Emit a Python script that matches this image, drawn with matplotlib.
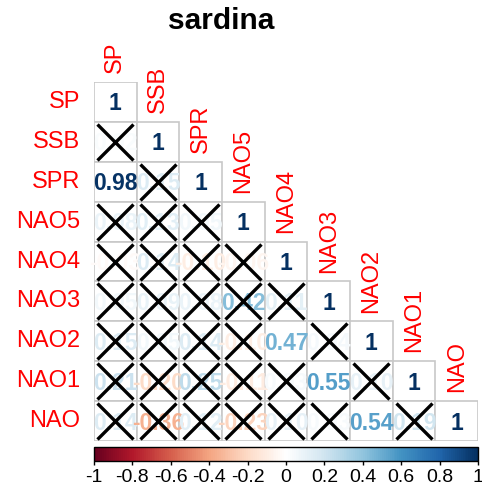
import matplotlib.pyplot as plt
import numpy as np
from matplotlib.colors import LinearSegmentedColormap, Normalize
from matplotlib.patches import Rectangle
from matplotlib.cm import ScalarMappable

plt.rcParams['font.family'] = ['Liberation Sans', 'DejaVu Sans']

nombres = ['SP', 'SSB', 'SPR', 'NAO5', 'NAO4', 'NAO3', 'NAO2', 'NAO1', 'NAO']

# triangulo inferior de la matriz de correlaciones (fila i, columnas 0..i)
corr_filas = [
    [1],
    [0.02, 1],
    [0.98, 0.15, 1],
    [0.08, 0.13, 0.05, 1],
    [-0.03, 0.14, -0.10, -0.06, 1],
    [0.05, 0.09, 0.08, 0.42, 0.11, 1],
    [0.15, 0.05, 0.14, -0.10, 0.47, 0.04, 1],
    [0.21, -0.20, 0.25, -0.11, 0.03, 0.55, 0.10, 1],
    [0.14, -0.36, 0.12, -0.23, 0.10, 0.03, 0.54, 0.19, 1],
]

# 1 = significativa, 0 = no significativa (se tacha con X)
signif_filas = [
    [1],
    [0, 1],
    [1, 0, 1],
    [0, 0, 0, 1],
    [0, 0, 0, 0, 1],
    [0, 0, 0, 0, 0, 1],
    [0, 0, 0, 0, 1, 0, 1],
    [0, 0, 0, 0, 0, 1, 0, 1],
    [0, 0, 0, 0, 0, 0, 1, 0, 1],
]

# paleta RdBu de corrplot
colores = ["#67001F", "#B2182B", "#D6604D", "#F4A582", "#FDDBC7", "#FFFFFF",
           "#D1E5F0", "#92C5DE", "#4393C3", "#2166AC", "#053061"]
cmap = LinearSegmentedColormap.from_list('rdbu', colores, N=200)
norm = Normalize(-1, 1)

W, H = 482, 488
fig = plt.figure(figsize=(W / 100, H / 100), dpi=100)
ax = fig.add_axes([94 / W, 1 - 441 / H, 384 / W, 359 / H])
n = len(nombres)
ax.set_xlim(0, n)
ax.set_ylim(n, 0)
ax.axis('off')

# celdas
for i in range(n):
    for j in range(i + 1):
        ax.add_patch(Rectangle((j, i), 1, 1, facecolor='white',
                               edgecolor='#C8C8C8', lw=1.2, zorder=1))

# numeros
for i in range(n):
    for j in range(i + 1):
        v = corr_filas[i][j]
        txt = '1' if v == 1 else f'{v:.2f}'
        ax.text(j + 0.5, i + 0.55, txt, ha='center', va='center',
                fontsize=16.5, fontweight='bold', color=cmap(norm(v)),
                zorder=2, clip_on=False)

# cruces para las no significativas
for i in range(n):
    for j in range(i + 1):
        if not signif_filas[i][j]:
            ax.plot(j + 0.5, i + 0.5, marker='x', markersize=26, mew=2.4,
                    color='black', zorder=3)

# etiquetas
for k, nom in enumerate(nombres):
    ax.text(-0.33, k + 0.5, nom, ha='right', va='center', color='red',
            fontsize=17, clip_on=False)
    ax.text(k + 0.5, k - 0.22, nom, ha='center', va='bottom', rotation=90,
            color='red', fontsize=17, clip_on=False)

fig.text(221 / W, 1 - 21 / H, 'sardina', ha='center', va='center',
         fontsize=21.5, fontweight='bold')

# barra de color
cax = fig.add_axes([94 / W, 1 - 461 / H, 384 / W, 14 / H])
ticks = [-1, -0.8, -0.6, -0.4, -0.2, 0, 0.2, 0.4, 0.6, 0.8, 1]
cb = fig.colorbar(ScalarMappable(norm=norm, cmap=cmap), cax=cax,
                  orientation='horizontal', ticks=ticks)
cb.ax.set_xticklabels([f'{t:g}' for t in ticks])
cb.ax.tick_params(labelsize=14, length=3, width=1, pad=3)
cb.outline.set_linewidth(1)

fig.savefig('out.png', dpi=100)
